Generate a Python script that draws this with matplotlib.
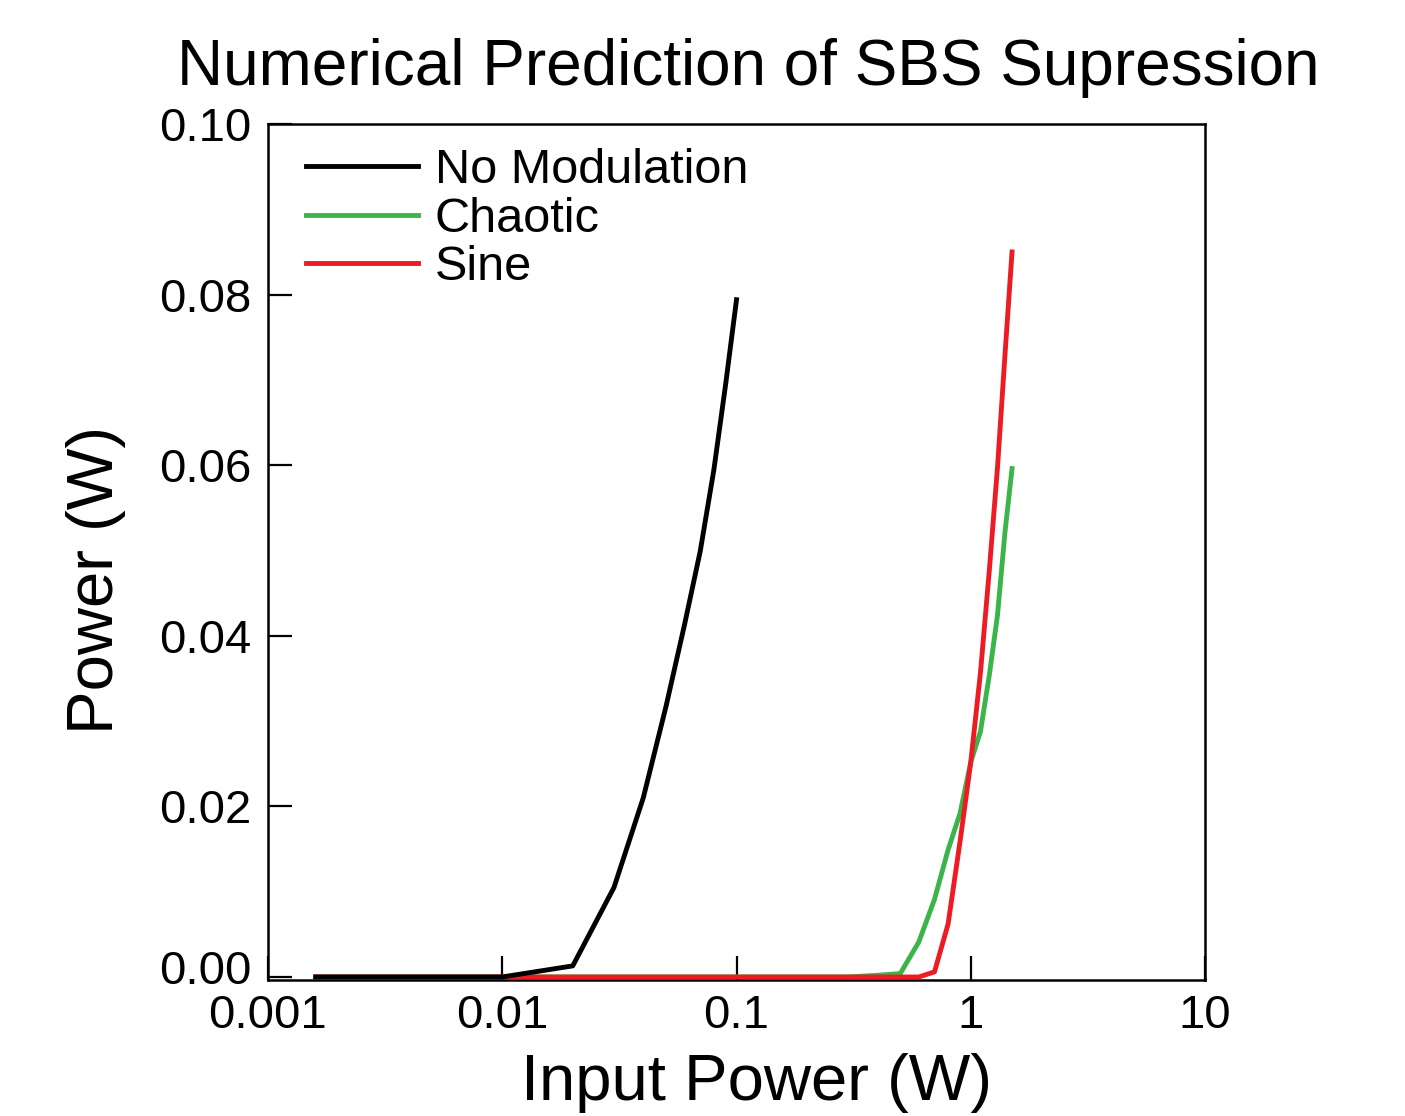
import numpy as np
import matplotlib
matplotlib.use('Agg')
import matplotlib.pyplot as plt
import matplotlib.transforms as mtransforms

plt.rcParams['font.family'] = ['Liberation Sans', 'DejaVu Sans']

# No modulation data
x_nomod = [0.0016, 0.002, 0.005, 0.01, 0.02, 0.03, 0.04, 0.05, 0.06, 0.07, 0.08, 0.09, 0.1]
y_nomod = [0.0, 0.0, 0.0, 0.0, 0.0013, 0.0105, 0.021, 0.0317, 0.0413, 0.0499, 0.0594, 0.0696, 0.0794]

# Chaotic modulation data
x_chaos = [0.0016, 0.01, 0.1, 0.2, 0.3, 0.4, 0.5, 0.6, 0.7, 0.8, 0.9, 1.0, 1.1, 1.2, 1.3, 1.4, 1.5]
y_chaos = [0.0, 0.0, 0.0, 0.0, 0.0, 0.0002, 0.0004, 0.0041, 0.0091, 0.0149, 0.0192, 0.0252, 0.0288,
           0.0354, 0.0424, 0.0522, 0.0596]

# Sine modulation data
x_sine = [0.0016, 0.01, 0.1, 0.2, 0.3, 0.4, 0.5, 0.6, 0.7, 0.8, 0.9, 1.0, 1.1, 1.2, 1.3, 1.4, 1.5]
y_sine = [0.0, 0.0, 0.0, 0.0, 0.0, 0.0, 0.0, 0.0, 0.0006, 0.0062, 0.0159, 0.0252, 0.0357,
          0.0477, 0.0597, 0.073, 0.085]

xticks = [0.001, 0.01, 0.1, 1, 10]
xticklabels = ['0.001', '0.01', '0.1', '1', '10']
yticks = [0.0, 0.02, 0.04, 0.06, 0.08, 0.10]

fig = plt.figure(figsize=(14.05, 11.16), dpi=100)
ax = fig.add_axes([0.1907, 0.1219, 0.667, 0.767])

ax.plot(x_nomod, y_nomod, color='black', lw=3.5, label='No Modulation', zorder=4)
ax.plot(x_chaos, y_chaos, color='#3bb44a', lw=3.5, label='Chaotic', zorder=2)
ax.plot(x_sine, y_sine, color='#ed1c24', lw=3.5, label='Sine', zorder=3)

ax.set_xscale('log')
ax.set_xlim(0.001, 10)
ax.set_ylim(-0.00035, 0.10)
ax.set_xticks(xticks)
ax.set_xticklabels(xticklabels)
ax.minorticks_off()
ax.set_yticks(yticks)
ax.set_yticklabels(['%.2f' % v for v in yticks])
ax.tick_params(direction='in', length=17, width=1.6, labelsize=34)
ax.tick_params(axis='x', pad=10)
ax.tick_params(axis='y', pad=12)

# nudge the bottom y label up a little, as in the original
lab0 = ax.get_yticklabels()[0]
lab0.set_transform(lab0.get_transform() + mtransforms.ScaledTranslation(0, 10 / 100, fig.dpi_scale_trans))

for s in ax.spines.values():
    s.set_linewidth(1.8)

ax.set_xlabel('Input Power (W)', fontsize=47, labelpad=14)
ax.xaxis.set_label_coords(0.521, -0.085)
ax.set_ylabel('Power (W)', fontsize=47)
ax.yaxis.set_label_coords(-0.151, 0.467)
ax.set_title('Numerical Prediction of SBS Supression', fontsize=46, pad=28, x=0.513)

ax.legend(loc='upper left', bbox_to_anchor=(0.02, 0.995), frameon=False, fontsize=35,
          handlelength=2.3, handletextpad=0.35, labelspacing=0.08, borderaxespad=0.0)

fig.savefig('out.png', dpi=100)
